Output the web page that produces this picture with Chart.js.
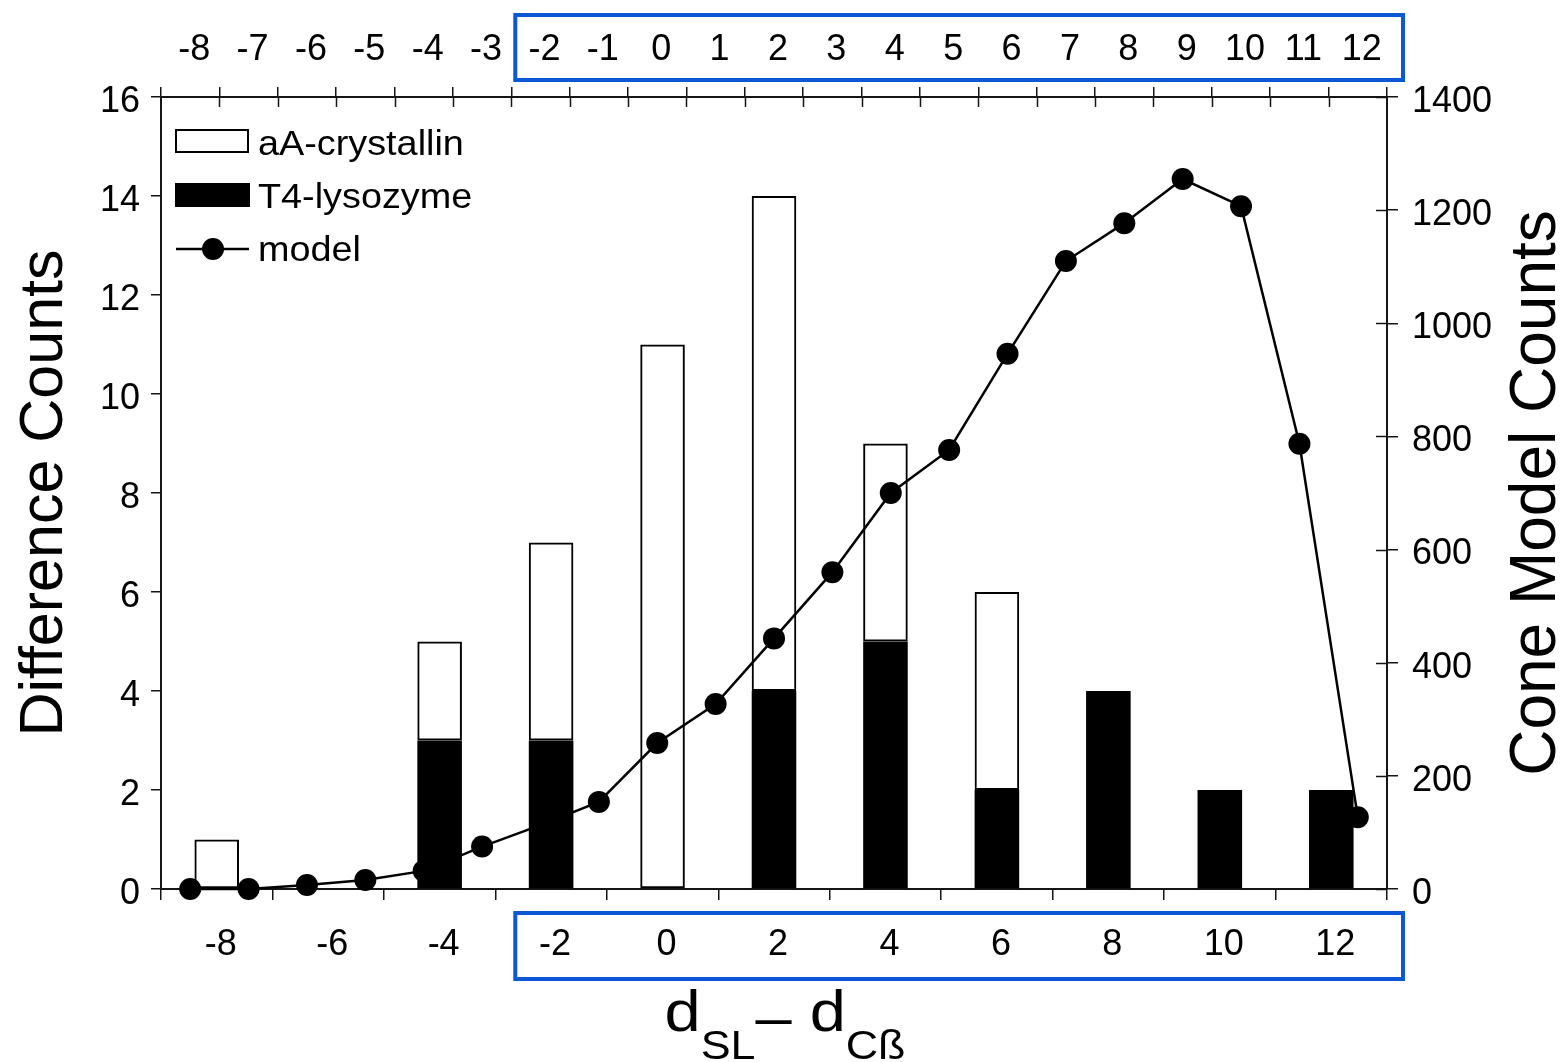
<!DOCTYPE html>
<html>
<head>
<meta charset="utf-8">
<title>Difference Counts vs Cone Model Counts</title>
<script src="https://cdn.jsdelivr.net/npm/chart.js@4.4.1/dist/chart.umd.min.js"></script>
<style>
  html, body { margin: 0; padding: 0; background: #fff; }
  #wrap { width: 1567px; height: 1062px; }
</style>
</head>
<body>
<div id="wrap"><canvas id="chart" width="1567" height="1062"></canvas></div>
<script>
(() => {
    // 数据
    const BIN_X = [-8, -4, -2, 0, 2, 4, 6, 8, 10, 12];
    const T4_LYSOZYME = [0, 3, 3, 0, 4, 5, 2, 4, 2, 2];
    const AA_CRYSTALLIN = [1, 2, 4, 11, 10, 4, 4, 0, 0, 0]; // stacked on T4
    const MODEL_X = [-8, -7, -6, -5, -4, -3, -2, -1, 0, 1, 2, 3, 4, 5, 6, 7, 8, 9, 10, 11, 12];
    const MODEL_COUNTS = [0, 0, 7, 16, 32, 75, 113, 154, 258, 327, 443, 560, 700, 776, 946, 1110, 1177, 1255, 1207, 787, 127];
    const BOTTOM_TICKS = [-8, -6, -4, -2, 0, 2, 4, 6, 8, 10, 12];
    const TOP_TICKS = [-8, -7, -6, -5, -4, -3, -2, -1, 0, 1, 2, 3, 4, 5, 6, 7, 8, 9, 10, 11, 12];

    const FONT = "'Liberation Sans', Arial, sans-serif";
    const AXIS = '#151515';
    const BLUE = '#0b57d6';
    const tickFont = { family: FONT, size: 36 };

    const pts = (xs, ys) => xs.map((x, i) => ({ x, y: ys[i] }));

    // 顶部/右侧刻度线向内的一半
    const innerTicks = {
        id: 'innerTicks',
        afterDraw(chart) {
            const { ctx, chartArea: a, scales } = chart;
            const top = scales.x2, right = scales.y2;
            ctx.save();
            ctx.strokeStyle = AXIS;
            ctx.lineWidth = 1.5;
            ctx.beginPath();
            for (let i = 1; i < top.ticks.length; i++) {
                const px = Math.round((top.getPixelForTick(i) + top.getPixelForTick(i - 1)) / 2) + 0.5;
                ctx.moveTo(px, a.top);
                ctx.lineTo(px, a.top + 10);
            }
            right.ticks.forEach((t, i) => {
                const py = Math.round(right.getPixelForTick(i)) + 0.5;
                ctx.moveTo(a.right - 11, py);
                ctx.lineTo(a.right, py);
            });
            ctx.stroke();
            ctx.restore();
        }
    };

    // 图例、轴标题、蓝框
    const decorations = {
        id: 'decorations',
        afterDraw(chart) {
            const { ctx, chartArea: a, scales } = chart;
            ctx.save();
            ctx.fillStyle = '#000';

            // legend
            const lx = a.left + 15, ly = a.top;
            ctx.lineWidth = 2;
            ctx.strokeStyle = '#000';
            ctx.fillStyle = '#fff';
            ctx.fillRect(lx, ly + 33, 72, 22);
            ctx.strokeRect(lx, ly + 33, 72, 22);
            ctx.fillStyle = '#000';
            ctx.fillRect(lx - 1, ly + 86, 75, 24);
            ctx.lineWidth = 2.5;
            ctx.beginPath();
            ctx.moveTo(lx, ly + 152);
            ctx.lineTo(lx + 73, ly + 152);
            ctx.stroke();
            ctx.beginPath();
            ctx.arc(lx + 37, ly + 152, 11, 0, Math.PI * 2);
            ctx.fill();

            const legendText = (txt, y) => {
                ctx.save();
                ctx.translate(lx + 82, y);
                ctx.scale(1.08, 1);
                ctx.font = `35px ${FONT}`;
                ctx.textBaseline = 'alphabetic';
                ctx.fillText(txt, 0, 0);
                ctx.restore();
            };
            legendText('aA-crystallin', ly + 58);
            legendText('T4-lysozyme', ly + 111);
            legendText('model', ly + 164);

            // axis titles
            const midY = (a.top + a.bottom) / 2;
            ctx.textAlign = 'center';
            ctx.textBaseline = 'middle';
            ctx.save();
            ctx.translate(45, midY);
            ctx.rotate(-Math.PI / 2);
            ctx.font = `61px ${FONT}`;
            ctx.fillText('Difference Counts', 0, 0);
            ctx.restore();

            ctx.save();
            ctx.translate(a.right + 150, midY);
            ctx.rotate(-Math.PI / 2);
            ctx.font = `64px ${FONT}`;
            ctx.fillText('Cone Model Counts', 0, 0);
            ctx.restore();

            // d_SL – d_Cß
            ctx.save();
            ctx.textAlign = 'left';
            ctx.textBaseline = 'alphabetic';
            const big = `58px ${FONT}`, small = `40px ${FONT}`;
            const parts = [['d', big, 0], ['SL', small, 28], ['\u2013', big, 6], [' d', big, 0], ['C\u00df', small, 28]];
            let w = 0;
            parts.forEach(([t, f]) => { ctx.font = f; w += ctx.measureText(t).width; });
            const sx = 1.12;
            ctx.translate((a.left + a.right) / 2 + 11 - w * sx / 2, a.bottom + 142);
            ctx.scale(sx, 1);
            let x = 0;
            parts.forEach(([t, f, dy]) => {
                ctx.font = f;
                ctx.fillText(t, x, dy);
                x += ctx.measureText(t).width;
            });
            ctx.restore();

            // blue highlight boxes
            const bx = scales.x2.getPixelForValue(-2.5) + 4;
            const bw = a.right + 16 - bx;
            ctx.strokeStyle = BLUE;
            ctx.lineWidth = 4;
            ctx.strokeRect(bx, 15, bw, 65);
            ctx.strokeRect(bx, a.bottom + 24, bw, 66);
            ctx.restore();
        }
    };

    const xTickSetter = list => scale => { scale.ticks = list.map(v => ({ value: v })); };

    const barCommon = {
        type: 'bar',
        grouped: false,
        categoryPercentage: 1,
        barPercentage: 0.4,
        xAxisID: 'x',
        yAxisID: 'y'
    };

    new Chart(document.getElementById('chart'), {
        type: 'bar',
        data: {
            datasets: [
                {
                    ...barCommon,
                    label: 'T4-lysozyme',
                    data: pts(BIN_X, T4_LYSOZYME),
                    backgroundColor: '#000',
                    borderWidth: 0,
                    order: 1
                },
                {
                    ...barCommon,
                    label: 'aA-crystallin',
                    data: pts(BIN_X, AA_CRYSTALLIN),
                    backgroundColor: 'rgba(0,0,0,0)',
                    borderColor: '#000',
                    borderWidth: 2,
                    borderSkipped: false,
                    order: 2
                },
                {
                    type: 'line',
                    label: 'model',
                    data: pts(MODEL_X, MODEL_COUNTS),
                    borderColor: '#000',
                    borderWidth: 2.5,
                    backgroundColor: '#000',
                    pointRadius: 11,
                    pointBorderWidth: 0,
                    pointBackgroundColor: '#000',
                    tension: 0,
                    clip: false,
                    xAxisID: 'x2',
                    yAxisID: 'y2',
                    order: 3
                }
            ]
        },
        options: {
            responsive: false,
            animation: false,
            devicePixelRatio: 1,
            layout: { padding: 0 },
            plugins: {
                legend: { display: false },
                tooltip: { enabled: false }
            },
            scales: {
                x: {
                    type: 'linear',
                    position: 'bottom',
                    min: -9,
                    max: 13,
                    offset: false,
                    stacked: true,
                    afterBuildTicks: xTickSetter(BOTTOM_TICKS),
                    afterFit: s => { s.height = 173; },
                    grid: { drawOnChartArea: false, tickLength: 11, offset: true, color: AXIS, lineWidth: 1.5 },
                    border: { color: AXIS, width: 2 },
                    ticks: { font: tickFont, color: '#000', padding: 23, labelOffset: 4, maxRotation: 0, autoSkip: false, callback: v => String(v) }
                },
                x2: {
                    type: 'linear',
                    position: 'top',
                    min: -8.5,
                    max: 12.5,
                    offset: false,
                    afterBuildTicks: xTickSetter(TOP_TICKS),
                    afterFit: s => { s.height = 97; },
                    grid: { drawOnChartArea: false, tickLength: 10, offset: true, color: AXIS, lineWidth: 1.5 },
                    border: { color: AXIS, width: 2 },
                    ticks: { font: tickFont, color: '#000', padding: 15, labelOffset: 4, maxRotation: 0, autoSkip: false, callback: v => String(v) }
                },
                y: {
                    type: 'linear',
                    position: 'left',
                    min: 0,
                    max: 16,
                    stacked: true,
                    afterFit: s => { s.width = 161; },
                    grid: { drawOnChartArea: false, tickLength: 10, color: AXIS, lineWidth: 1.5 },
                    border: { color: AXIS, width: 2 },
                    ticks: { stepSize: 2, font: tickFont, color: '#000', padding: 11, labelOffset: 5 }
                },
                y2: {
                    type: 'linear',
                    position: 'right',
                    min: 0,
                    max: 1400,
                    afterFit: s => { s.width = 180; },
                    grid: { drawOnChartArea: false, tickLength: 11, color: AXIS, lineWidth: 1.5 },
                    border: { color: AXIS, width: 2 },
                    ticks: { stepSize: 200, font: tickFont, color: '#000', padding: 14, labelOffset: 5, callback: v => String(v) }
                }
            }
        },
        plugins: [innerTicks, decorations]
    });
})();
</script>
</body>
</html>
